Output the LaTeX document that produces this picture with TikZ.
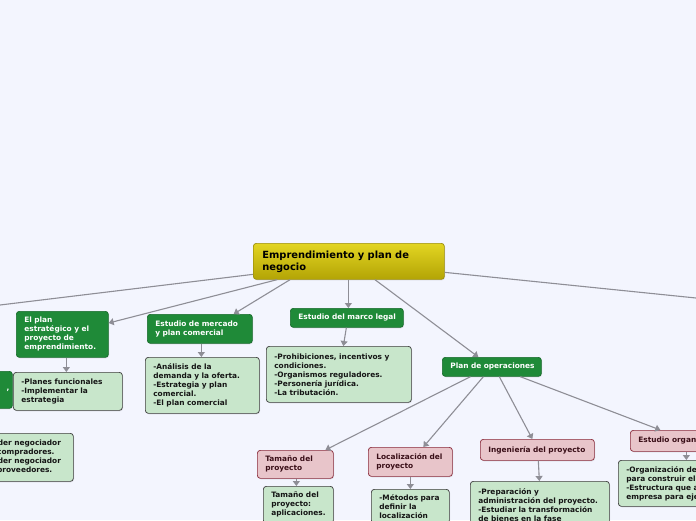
\documentclass[tikz,border=0pt]{standalone}
\usepackage{fontspec}
\setmainfont{DejaVu Sans}
\usetikzlibrary{arrows.meta,shadows}
\definecolor{bgc}{HTML}{F3F5FE}
\definecolor{dgreen}{HTML}{1F8A38}
\definecolor{dgreenb}{HTML}{176B2B}
\definecolor{lgreen}{HTML}{C8E6CB}
\definecolor{lgreenb}{HTML}{3C3C3C}
\definecolor{ltext}{HTML}{151515}
\definecolor{pinkf}{HTML}{E8C5CA}
\definecolor{pinkb}{HTML}{8A2A3A}
\definecolor{pinkt}{HTML}{3A0F18}
\definecolor{rootT}{HTML}{E3D522}
\definecolor{rootB}{HTML}{B3A405}
\definecolor{rootD}{HTML}{9C8E0A}
\definecolor{linec}{HTML}{8E8E96}
\hfuzz=50pt
\begin{document}
\begin{tikzpicture}[x=1pt,y=-1pt,
  box/.style={anchor=north west, rounded corners=3pt, inner xsep=8pt, inner ysep=1pt,
    align=left, line width=0.7pt, font=\fontsize{7.4}{9}\selectfont\bfseries,
    drop shadow={shadow xshift=0.7pt,shadow yshift=-0.9pt,opacity=0.22}},
  dg/.style={box, fill=dgreen, draw=dgreenb, text=white},
  lg/.style={box, fill=lgreen, draw=lgreenb, text=ltext},
  pk/.style={box, fill=pinkf, draw=pinkb, text=pinkt},
  conn/.style={draw=linec, line width=1.1pt},
  arr/.style={conn, -{Triangle[length=5pt,width=7pt]}}
]
\useasboundingbox (0,0) rectangle (696,520);
\clip (0,0) rectangle (696,520);
\fill[bgc] (0,0) rectangle (696,520);

\coordinate (offL) at (0,305);
\coordinate (offR) at (696,298);

% root
\node[box, top color=rootT, bottom color=rootB, draw=rootD, text=black, inner xsep=9pt,
  text width=173pt, minimum height=36pt, font=\fontsize{9.9}{12}\selectfont\bfseries]
  (root) at (253,243) {\mbox{Emprendimiento y plan de}\\negocio};

% first level
\node[dg, text width=76pt, minimum height=46pt] (plan) at (16,311)
  {El plan\\\mbox{estratégico y el}\\proyecto de\\\mbox{emprendimiento.}};
\node[dg, text width=89pt, minimum height=29pt] (mercado) at (147,314)
  {\mbox{Estudio de mercado}\\\mbox{y plan comercial}};
\node[dg, text width=97pt, minimum height=19pt] (legal) at (290,308)
  {\mbox{Estudio del marco legal}};
\node[dg, text width=83pt, minimum height=19pt] (operaciones) at (442,357)
  {\mbox{Plan de operaciones}};
\node[dg, inner xsep=3pt, text width=56pt, minimum height=37pt, align=right] (leftdark) at (-50,371)
  {,};

% details
\node[lg, text width=93pt, minimum height=38pt] (planes) at (13,372)
  {\mbox{-Planes funcionales}\\\mbox{-Implementar la}\\estrategia};
\node[lg, text width=81pt, minimum height=48pt] (leftlight) at (-24,433)
  {\mbox{-Poder negociador}\\\mbox{de compradores.}\\\mbox{-Poder negociador}\\\mbox{de proveedores.}};
\node[lg, text width=98pt, minimum height=56pt] (analisis) at (145,357)
  {\mbox{-Análisis de la}\\\mbox{demanda y la oferta.}\\\mbox{-Estrategia y plan}\\comercial.\\\mbox{-El plan comercial}};
\node[lg, text width=129pt, minimum height=56pt] (prohib) at (266,346)
  {\mbox{-Prohibiciones, incentivos y}\\condiciones.\\\mbox{-Organismos reguladores.}\\\mbox{-Personería jurídica.}\\\mbox{-La tributación.}};

% operations children
\node[pk, text width=60pt, minimum height=28pt] (tamano) at (257,450)
  {\mbox{Tamaño del}\\proyecto};
\node[pk, text width=68pt, minimum height=29pt] (localiz) at (368,447)
  {\mbox{Localización del}\\proyecto};
\node[pk, text width=98pt, minimum height=21pt] (ingenieria) at (480,439)
  {\mbox{Ingeniería del proyecto}};
\node[pk, text width=94pt, minimum height=21pt] (organ) at (630,430)
  {\mbox{Estudio organizacional}};

\node[lg, text width=54pt, minimum height=37pt] (tamanoapl) at (263,486)
  {\mbox{Tamaño del}\\proyecto:\\aplicaciones.};
\node[lg, text width=62pt, minimum height=34pt] (metodos) at (371,489)
  {\mbox{-Métodos para}\\\mbox{definir la}\\localización};
\node[lg, text width=123pt, minimum height=48pt] (prepar) at (470,481)
  {\mbox{-Preparación y}\\\mbox{administración del proyecto.}\\\mbox{-Estudiar la transformación}\\\mbox{de bienes en la fase}};
\node[lg, text width=124pt, minimum height=46pt] (organlist) at (618,460)
  {\mbox{-Organización del personal}\\\mbox{para construir el proyecto.}\\\mbox{-Estructura que adoptará la}\\\mbox{empresa para ejecutarlo.}};

% connectors
\draw[conn] ([yshift=-13pt]root.west) -- (offL);
\draw[conn] ([yshift=-11pt]root.east) -- (offR);
\draw[arr] ([xshift=24pt]root.south west) -- ([yshift=-12pt]plan.north east);
\draw[arr] ([xshift=37pt]root.south west) -- ([xshift=-19pt]mercado.north east);
\draw[arr] ([xshift=-0.5pt]root.south) -- ([xshift=1.5pt]legal.north);
\draw[arr] ([xshift=122pt]root.south west) -- ([xshift=-13.5pt]operaciones.north);

\draw[arr] ([xshift=4pt]plan.south) -- ([xshift=-1.5pt]planes.north);
\draw[arr] ([xshift=1.5pt]mercado.south) -- ([xshift=-1pt]analisis.north);
\draw[arr] ([xshift=-0.5pt]legal.south) -- ([xshift=4.5pt]prohib.north);

\draw[arr] ([xshift=-21.5pt]operaciones.south) -- ([xshift=30pt]tamano.north);
\draw[arr] ([xshift=-8.5pt]operaciones.south) -- ([xshift=13pt]localiz.north);
\draw[arr] ([xshift=7.5pt]operaciones.south) -- ([xshift=-5pt]ingenieria.north);
\draw[arr] ([xshift=28.5pt]operaciones.south) -- ([xshift=-25pt]organ.north);

\draw[arr] ([xshift=1pt]tamano.south) -- ([xshift=-2pt]tamanoapl.north);
\draw[arr] (localiz.south) -- (metodos.north);
\draw[arr] ([xshift=1pt]ingenieria.south) -- ([xshift=-0.5pt]prepar.north);
\draw[arr] ([xshift=1pt]organ.south) -- ([xshift=-2pt]organlist.north);
\end{tikzpicture}
\end{document}
